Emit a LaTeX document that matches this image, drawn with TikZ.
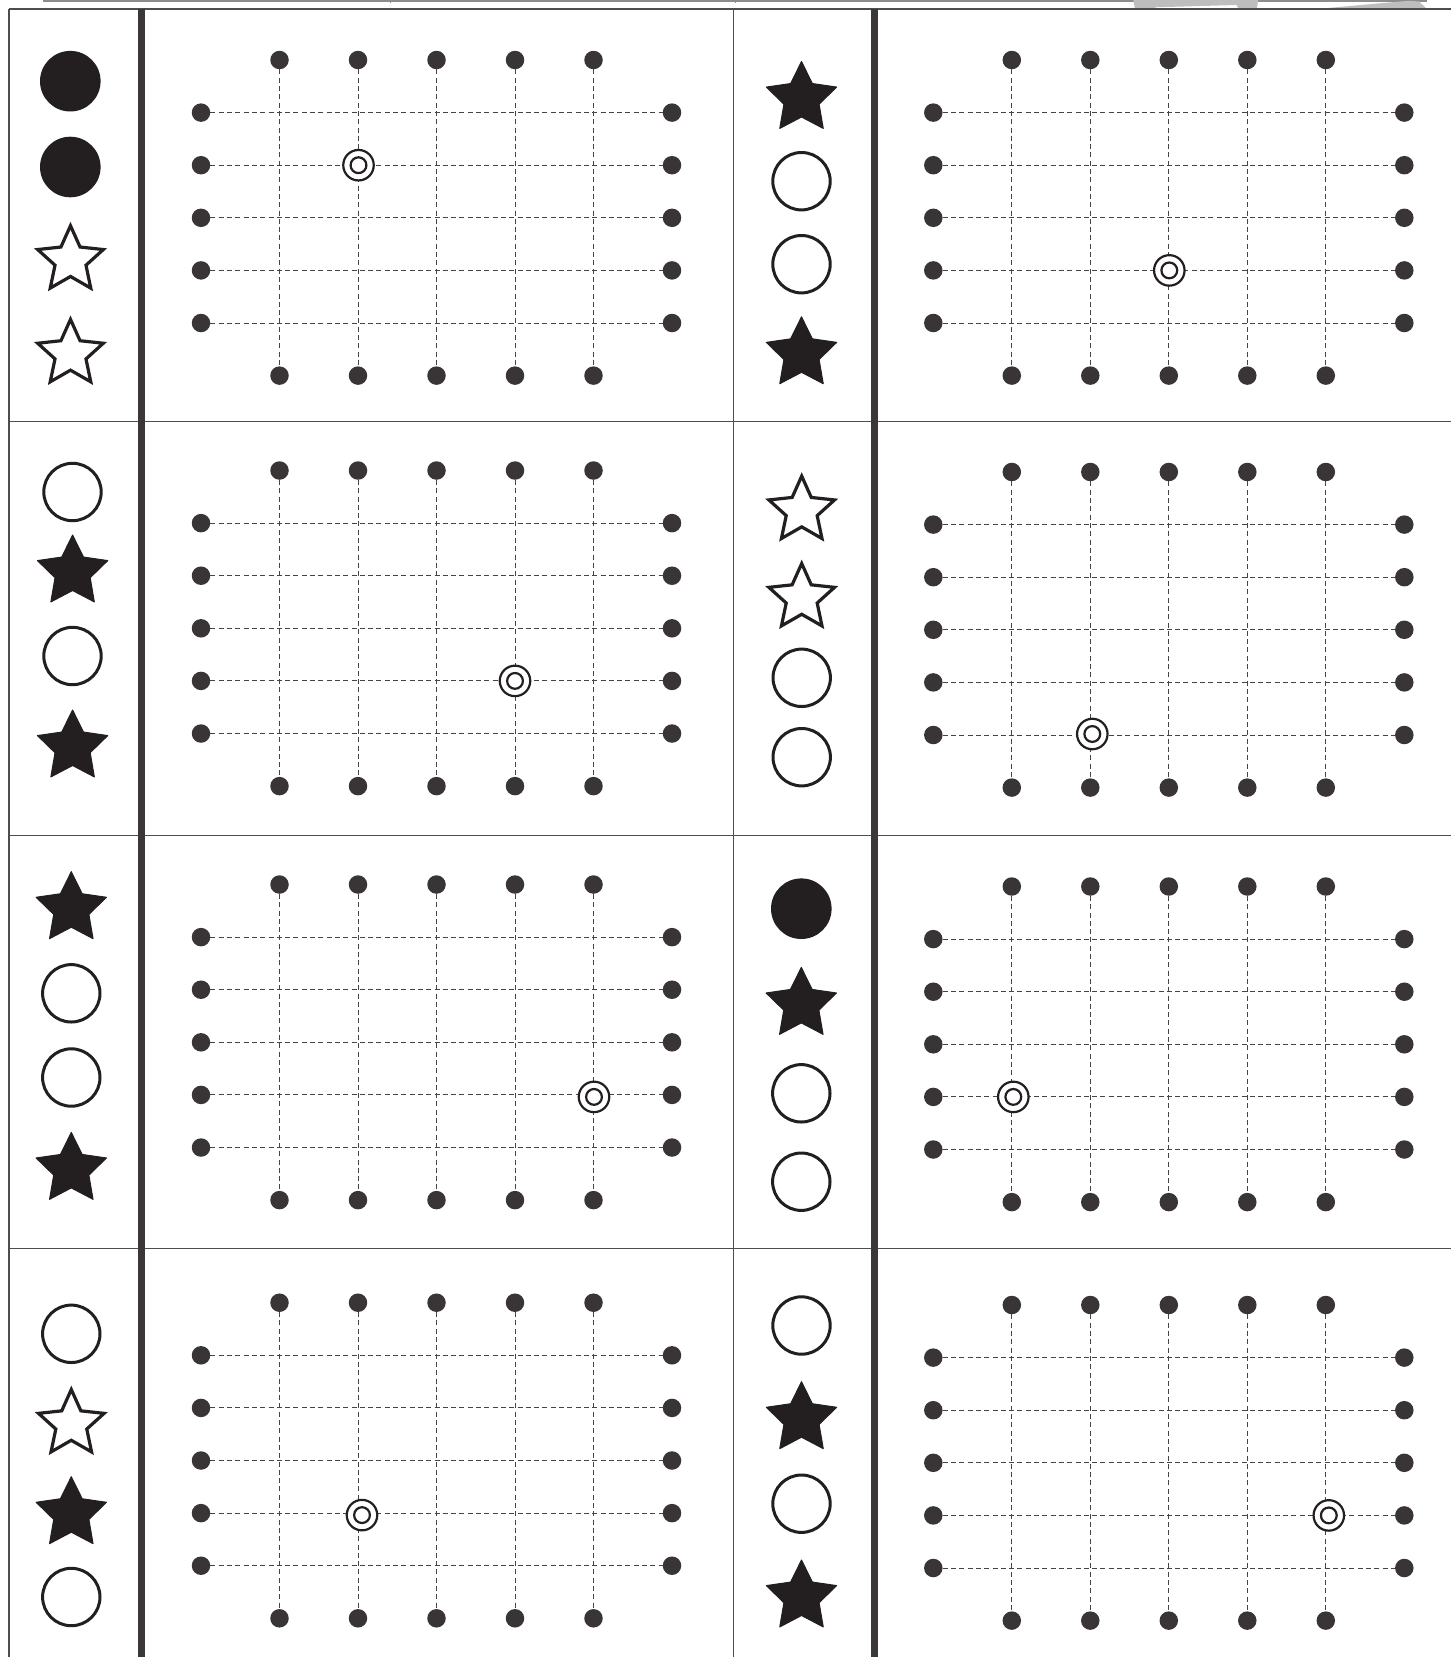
\documentclass[tikz,border=0pt]{standalone}
\usetikzlibrary{shapes.geometric}
\definecolor{ink}{HTML}{231F20}
\definecolor{dotc}{HTML}{393536}
\definecolor{rulec}{HTML}{3B3738}
\definecolor{gridc}{HTML}{454545}
\definecolor{framec}{HTML}{4D4D4D}
\definecolor{wmark}{HTML}{BEBEBE}
\definecolor{topc}{HTML}{8C8C8C}
\begin{document}
\begin{tikzpicture}[x=1pt,y=-1pt,
  dotn/.style={circle,fill=dotc,inner sep=0pt,minimum size=18.5pt},
  gridline/.style={draw=gridc,line width=0.95pt,dash pattern=on 5pt off 3.3pt},
  fcirc/.style={circle,fill=ink,inner sep=0pt,minimum size=60.6pt},
  ocirc/.style={circle,draw=ink,line width=3pt,inner sep=0pt,minimum size=57.4pt},
  fstar/.style={star,star points=5,star point ratio=2.0,fill=ink,draw=ink,line width=1pt,line join=round,inner sep=0pt,minimum size=74pt},
  ostar/.style={star,star points=5,star point ratio=2.12,draw=ink,line width=3.2pt,line join=miter,inner sep=0pt,minimum size=69pt},
  markout/.style={circle,draw=ink,fill=white,line width=2.2pt,inner sep=0pt,minimum size=30.5pt},
  markin/.style={circle,draw=ink,line width=2.2pt,inner sep=0pt,minimum size=15.8pt},
  frame/.style={draw=framec,line width=1.2pt},
  thickrule/.style={draw=rulec,line width=7pt}]
\useasboundingbox[fill=white] (0,0) rectangle (1451,1657);
% top strip
\draw[topc,line width=1.5pt] (43,0.8) -- (1427,0.8);
\draw[topc,line width=1pt] (390,0) -- (390,2.5) (735,0) -- (735,2.5);
\fill[wmark] (1133.3,0) -- (1258.3,0) -- (1256.7,9) -- (1238.3,9) -- (1236.7,5) -- (1155,7.3) -- (1155,9) -- (1135,9) -- cycle;
\fill[wmark] (1316.7,9) -- (1408,0.8) -- (1419,1.5) -- (1427,9) -- cycle;
% frame
\draw[frame] (9,9) -- (1451,9);
\draw[frame] (9,9) -- (9,1657);
\draw[frame] (9,421.7) -- (1451,421.7);
\draw[frame] (9,835.5) -- (1451,835.5);
\draw[frame] (9,1248.7) -- (1451,1248.7);
\draw[frame] (733.4,9) -- (733.4,1657);
\draw[thickrule] (141.7,9) -- (141.7,1657);
\draw[thickrule] (874,9) -- (874,1657);
% panels
\foreach \p/\ox/\oy/\mc/\mr/\mdx/\mdy in {1/0/60/2/2/0.5/0, 2/732.3/60/3/4/0.5/0, 3/0/470.5/4/4/0/0, 4/732.3/472/2/5/2/-1, 5/0/884.5/5/4/0.5/2, 6/732.3/886.5/1/4/1.5/0, 7/0/1302.7/2/4/4/2, 8/732.3/1305/5/4/3/0} {
  \foreach \i in {1,...,5} {
    \node[dotn] (P\p-T\i) at (\ox+201+78.5*\i, \oy) {};
    \node[dotn] (P\p-B\i) at (\ox+201+78.5*\i, \oy+315.6) {};
    \node[dotn] (P\p-L\i) at (\ox+201, \oy+52.6*\i) {};
    \node[dotn] (P\p-R\i) at (\ox+672, \oy+52.6*\i) {};
  }
  \foreach \i in {1,...,5} {
    \draw[gridline] (P\p-T\i) -- (P\p-B\i);
    \draw[gridline] (P\p-L\i) -- (P\p-R\i);
  }
  \node[markout] (P\p-M) at (\ox+201+78.5*\mc+\mdx, \oy+52.6*\mr+\mdy) {};
  \node[markin] (P\p-m) at (P\p-M) {};
}
% symbols
\foreach \s/\x/\y [count=\k] in {
  fcirc/70.3/81.2, fcirc/70.3/167, ostar/70.5/260.2, ostar/70.5/353.9,
  fstar/801.5/98.5, ocirc/801.5/181.2, ocirc/801.5/264.2, fstar/801.5/353.8,
  ocirc/72.5/492, fstar/72.6/572, ocirc/72.5/656, fstar/72.6/747,
  ostar/801.7/510.6, ostar/801.7/598, ocirc/801.7/677.8, ocirc/801.7/757.2,
  fstar/71.3/908.7, ocirc/71.3/993.3, ocirc/71.3/1077.5, fstar/71.3/1169.4,
  fcirc/801.3/908.7, fstar/801.3/1004.4, ocirc/801.3/1093.3, ocirc/801.3/1181.7,
  ocirc/71.3/1333.8, ostar/71.3/1424, fstar/71.3/1513.7, ocirc/71.3/1597,
  ocirc/801.5/1325.5, fstar/801.5/1418.7, ocirc/801.5/1503.7, fstar/801.5/1597} {
  \node[\s] (S\k) at (\x,\y) {};
}
\end{tikzpicture}
\end{document}
